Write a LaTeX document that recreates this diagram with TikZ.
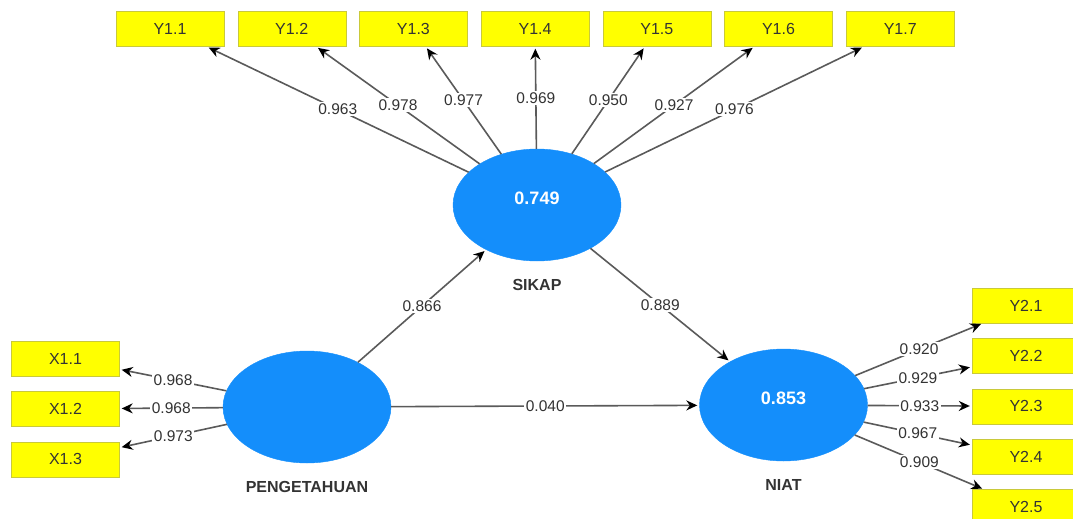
\documentclass[tikz,border=0pt]{standalone}
\usepackage{fontspec}
\setmainfont{Liberation Sans}
\usetikzlibrary{shapes.geometric, arrows.meta, positioning}
\definecolor{clrInd}{HTML}{FFFF00}
\definecolor{clrIndEdge}{HTML}{C9C93A}
\definecolor{clrLat}{HTML}{148EFB}
\definecolor{clrLine}{HTML}{5A5A5A}
\definecolor{clrText}{HTML}{333333}
\tikzset{
  ind/.style = {rectangle, minimum width=108pt, minimum height=35pt, inner sep=0pt,
                font=\fontsize{16}{18}\selectfont, text=clrText, draw=clrIndEdge, fill=clrInd},
  lat/.style = {ellipse, minimum width=168pt, minimum height=112pt, inner sep=0pt,
                draw=clrLat, fill=clrLat, text=white, text depth=14pt,
                font=\fontsize{18}{20}\selectfont\bfseries},
  lname/.style = {inner sep=0pt, text depth=0pt, text=clrText, yshift=-18pt,
                  font=\fontsize{16}{18}\selectfont\bfseries},
  arrow/.style = {-{Stealth[length=11pt, width=10pt, color=black]}, line width=1.6pt,
                  color=clrLine, shorten >=2pt},
  coef/.style = {fill=white, inner sep=1.5pt, text=clrText, font=\fontsize{15.5}{17}\selectfont},
}

\begin{document}
\begin{tikzpicture}[x=1pt, y=-1pt]
  \useasboundingbox (0,0) rectangle (1073,519);

  % Latent variables
  \node[lat, label={[lname]below:SIKAP}]       (Sikap) at (537,205)   {0.749};
  \node[lat, label={[lname]below:PENGETAHUAN}] (Peng)  at (307,407)   {};
  \node[lat, label={[lname]below:NIAT}]        (Niat)  at (783.5,405) {0.853};

  % Top row: indicators of SIKAP
  \node[ind] (Y11) at (170,29) {Y1.1};
  \node[ind, right=13.3pt of Y11] (Y12) {Y1.2};
  \node[ind, right=13.3pt of Y12] (Y13) {Y1.3};
  \node[ind, right=13.3pt of Y13] (Y14) {Y1.4};
  \node[ind, right=13.3pt of Y14] (Y15) {Y1.5};
  \node[ind, right=13.3pt of Y15] (Y16) {Y1.6};
  \node[ind, right=13.3pt of Y16] (Y17) {Y1.7};

  % Left column: indicators of PENGETAHUAN
  \node[ind] (X11) at (65.5,358.5) {X1.1};
  \node[ind, below=15pt of X11] (X12) {X1.2};
  \node[ind, below=15pt of X12] (X13) {X1.3};

  % Right column: indicators of NIAT
  \node[ind] (Y21) at (1026,305.5) {Y2.1};
  \node[ind, below=15pt of Y21] (Y22) {Y2.2};
  \node[ind, below=15pt of Y22] (Y23) {Y2.3};
  \node[ind, below=15pt of Y23] (Y24) {Y2.4};
  \node[ind, below=15pt of Y24] (Y25) {Y2.5};

  % Outer loadings
  \draw[arrow] (Sikap) -- node[coef] {0.963} (Y11);
  \draw[arrow] (Sikap) -- node[coef] {0.978} (Y12);
  \draw[arrow] (Sikap) -- node[coef] {0.977} (Y13);
  \draw[arrow] (Sikap) -- node[coef] {0.969} (Y14);
  \draw[arrow] (Sikap) -- node[coef] {0.950} (Y15);
  \draw[arrow] (Sikap) -- node[coef] {0.927} (Y16);
  \draw[arrow] (Sikap) -- node[coef] {0.976} (Y17);

  \draw[arrow] (Peng) -- node[coef] {0.968} (X11);
  \draw[arrow] (Peng) -- node[coef] {0.968} (X12);
  \draw[arrow] (Peng) -- node[coef] {0.973} (X13);

  \draw[arrow] (Niat) -- node[coef] {0.920} (Y21);
  \draw[arrow] (Niat) -- node[coef] {0.929} (Y22);
  \draw[arrow] (Niat) -- node[coef] {0.933} (Y23);
  \draw[arrow] (Niat) -- node[coef] {0.967} (Y24);
  \draw[arrow] (Niat) -- node[coef] {0.909} (Y25);

  % Path coefficients
  \draw[arrow] (Peng)  -- node[coef] {0.866} (Sikap);
  \draw[arrow] (Sikap) -- node[coef] {0.889} (Niat);
  \draw[arrow] (Peng)  -- node[coef] {0.040} (Niat);

\end{tikzpicture}
\end{document}
